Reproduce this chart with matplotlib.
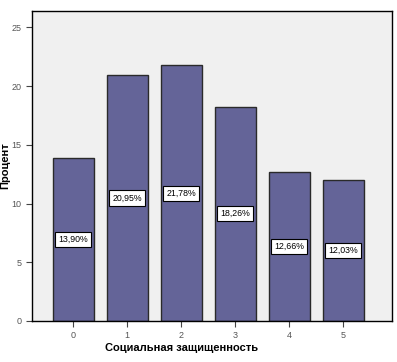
import matplotlib
matplotlib.use("Agg")
import matplotlib.pyplot as plt

categories = ["0", "1", "2", "3", "4", "5"]
percent = [13.90, 20.95, 21.78, 18.26, 12.66, 12.03]
labels = ["13,90%", "20,95%", "21,78%", "18,26%", "12,66%", "12,03%"]
yticks = [0, 5, 10, 15, 20, 25]

plt.rcParams['font.family'] = ['Liberation Sans', 'DejaVu Sans']

fig = plt.figure(figsize=(3.97, 3.62), dpi=100)
ax = fig.add_axes([0.0806, 0.1133, 0.9064, 0.8563])
ax.set_facecolor('#f0f0f0')

x = list(range(len(categories)))
ax.bar(x, percent, width=0.76, color='#646498', edgecolor='#2a2a2a', linewidth=1.0, zorder=2)

for xi, v, lab in zip(x, percent, labels):
    ax.text(xi, v / 2, lab, ha='center', va='center', fontsize=6.3, color='black', zorder=3,
            bbox=dict(boxstyle='square,pad=0.35', facecolor='white', edgecolor='black', linewidth=0.8))

ax.set_xlim(-0.76, 5.9)
ax.set_ylim(0, 26.4)
ax.set_xticks(x)
ax.set_xticklabels(categories)
ax.set_yticks(yticks)
ax.tick_params(axis='both', direction='out', length=4, width=0.8, labelsize=6.5,
               labelcolor='#555555', color='#444444')

for s in ax.spines.values():
    s.set_color('black')
    s.set_linewidth(1.0)

ax.set_xlabel('Социальная защищенность', fontsize=8, fontweight='bold')
ax.set_ylabel('Процент', fontsize=8, fontweight='bold')
ax.xaxis.set_label_coords(0.417, -0.072)
ax.yaxis.set_label_coords(-0.06, 0.5)

fig.savefig('out.png', dpi=100)
